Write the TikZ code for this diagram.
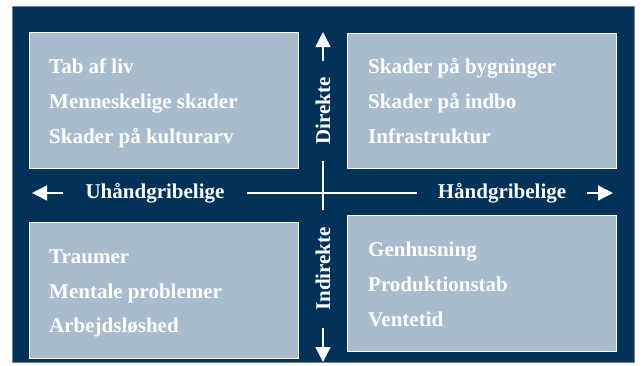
\documentclass[tikz,border=0pt]{standalone}
\usepackage{fontspec}
\setmainfont{Liberation Serif}
\usetikzlibrary{arrows.meta}
\definecolor{navy}{RGB}{0,50,89}
\definecolor{pale}{RGB}{168,188,205}
\begin{document}
\begin{tikzpicture}[x=1pt,y=-1pt,
  lbl/.style={font=\fontsize{21}{25}\selectfont\bfseries, text=white, inner ysep=0pt},
  quad/.style={fill=pale, draw=white, line width=1pt, minimum width=269pt, anchor=north west, inner sep=0pt},
  item/.style={font=\fontsize{21}{25}\selectfont\bfseries, text=white, anchor=base west, inner sep=0pt},
  axis/.style={draw=white, line width=1.5pt},
  tip/.style={-{Triangle[length=15pt,width=15pt]}}
]
\useasboundingbox (0,0) rectangle (643,365);
\draw[fill=navy, draw=gray, line width=1pt] (12,6) rectangle (634,362);

% quadrant boxes
\node[quad, minimum height=136pt] (q1) at (29,32) {};
\node[quad, minimum height=135pt] (q2) at (347,33) {};
\node[quad, minimum height=136pt] (q3) at (29,222) {};
\node[quad, minimum height=136pt] (q4) at (347,215) {};

% items
\node[item] (a1) at (49,73) {Tab af liv};
\node[item] (a2) at (49,108) {Menneskelige skader};
\node[item] (a3) at (49,143) {Skader på kulturarv};

\node[item] (b1) at (368,73) {Skader på bygninger};
\node[item] (b2) at (368,108) {Skader på indbo};
\node[item] (b3) at (368,143) {Infrastruktur};

\node[item] (c1) at (49,263) {Traumer};
\node[item] (c2) at (49,298) {Mentale problemer};
\node[item] (c3) at (49,332) {Arbejdsløshed};

\node[item] (d1) at (368,256) {Genhusning};
\node[item] (d2) at (368,291) {Produktionstab};
\node[item] (d3) at (368,326) {Ventetid};

% axis labels
\node[lbl, inner xsep=22pt] (uh) at (155,193) {Uhåndgribelige};
\node[lbl, inner xsep=21pt] (hg) at (502,193) {Håndgribelige};
\node[lbl, rotate=90, inner xsep=16pt] (dir) at (323,111) {Direkte};
\node[lbl, rotate=90, inner xsep=17pt] (ind) at (323,269) {Indirekte};

\coordinate (ltip) at (32,193);
\coordinate (rtip) at (613,193);
\coordinate (ttip) at (323,32);
\coordinate (btip) at (323,362);

% axes
\draw[axis, tip] (uh.west) -- (ltip);
\draw[axis] (uh.east) -- (hg.west);
\draw[axis, tip] (hg.east) -- (rtip);
\draw[axis, tip] (dir.east) -- (ttip);
\draw[axis] (dir.west) -- (ind.east);
\draw[axis, tip] (ind.west) -- (btip);
\end{tikzpicture}
\end{document}
